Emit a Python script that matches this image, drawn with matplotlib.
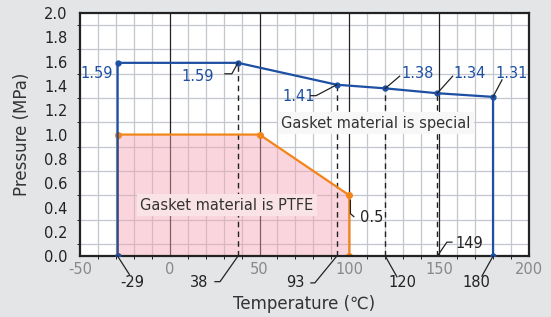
import numpy as np
import matplotlib.pyplot as plt

plt.rcParams['axes.unicode_minus'] = False

# pressure limit, special gasket material
special_t = [-29, -29, 38, 93, 120, 149, 180, 180]
special_p = [0, 1.59, 1.59, 1.41, 1.38, 1.34, 1.31, 0]

# pressure limit, PTFE gasket
ptfe_t = [-29, -29, 50, 100, 100]
ptfe_p = [0, 1.0, 1.0, 0.5, 0]

# temperatures with dashed guide lines
guide_t = [38, 93, 120, 149]
guide_p = [1.59, 1.41, 1.38, 1.34]

blue = '#1d4fa3'
orange = '#f28418'

fig = plt.figure(figsize=(5.51, 3.17), dpi=100, facecolor='#e4e5e7')
ax = fig.add_axes([0.145, 0.192, 0.815, 0.767])
ax.set_xlim(-50, 200)
ax.set_ylim(0, 2.0)

# grid
ax.set_xticks(np.arange(-50, 201, 10), minor=True)
ax.set_yticks(np.arange(0, 2.01, 0.1), minor=True)
ax.grid(which='minor', color='#c3c7cf', lw=0.9)
ax.set_axisbelow(True)
for t in [0, 50, 100, 150]:
    ax.axvline(t, color='#222222', lw=0.9, zorder=0.6)

ax.set_xticks([-50, 0, 50, 100, 150, 200])
ax.set_yticks(np.arange(0, 2.01, 0.2))
ax.set_yticklabels(['%.1f' % v for v in np.arange(0, 2.01, 0.2)])
ax.tick_params(length=0, labelsize=10.5)
ax.tick_params(axis='x', labelcolor='#888888', pad=4)
ax.tick_params(axis='y', labelcolor='#222222', pad=9)
for s in ax.spines.values():
    s.set_linewidth(1.6)
    s.set_color('#222222')

ax.fill(ptfe_t, ptfe_p, color='#f4a3b4', alpha=0.45, lw=0, zorder=1)

for t, p in zip(guide_t, guide_p):
    ax.plot([t, t], [0, p], color='#222222', lw=1, ls=(0, (4, 3)), zorder=1.5)

ax.plot(ptfe_t, ptfe_p, color=orange, lw=1.6, marker='o', ms=4, zorder=2.5)
ax.plot(special_t, special_p, color=blue, lw=1.6, marker='o', ms=3.5, zorder=2.6)

ax.text(114.8, 1.095, 'Gasket material is special', ha='center', va='center',
        fontsize=10.5, color='#333333', zorder=3,
        bbox=dict(boxstyle='square,pad=0.25', fc='#f7f7f7', ec='none'))
ax.text(31.8, 0.42, 'Gasket material is PTFE', ha='center', va='center',
        fontsize=10.5, color='#333333', zorder=3,
        bbox=dict(boxstyle='square,pad=0.25', fc='#fae3e6', ec='none'))

lk = dict(color='#222222', lw=0.9, clip_on=False, zorder=3)
nk = dict(ha='center', va='center', fontsize=10.5, clip_on=False)

# value labels on the blue line
ax.text(-40.5, 1.5, '1.59', color=blue, **nk)
ax.text(15.7, 1.48, '1.59', color=blue, **nk)
ax.plot([30.7, 34.6, 38], [1.50, 1.50, 1.59], **lk)
ax.text(71.9, 1.31, '1.41', color=blue, **nk)
ax.plot([78.5, 81.5, 93], [1.32, 1.32, 1.41], **lk)
ax.text(138.2, 1.5, '1.38', color=blue, **nk)
ax.plot([120, 128], [1.38, 1.48], **lk)
ax.text(167.2, 1.5, '1.34', color=blue, **nk)
ax.plot([149, 157.5], [1.34, 1.48], **lk)
ax.text(190.5, 1.5, '1.31', color=blue, **nk)
ax.plot([180, 185], [1.31, 1.45], **lk)

# orange corner label
ax.text(112.6, 0.32, '0.5', color='#222222', **nk)
ax.plot([100.6, 100.6, 102.5], [0.46, 0.35, 0.325], **lk)

# temperature labels
ax.text(166.6, 0.10, '149', color='#222222', **nk)
ax.plot([149, 154.3, 157.1], [0, 0.115, 0.115], **lk)
ax.text(-21, -0.22, '-29', color='#222222', **nk)
ax.plot([-29, -22.5], [0, -0.15], **lk)
ax.text(16.3, -0.22, '38', color='#222222', **nk)
ax.plot([38, 28, 25.2], [0, -0.21, -0.21], **lk)
ax.text(69.7, -0.22, '93', color='#222222', **nk)
ax.plot([93, 80.8, 78.6], [0, -0.22, -0.22], **lk)
ax.text(129.3, -0.22, '120', color='#222222', **nk)
ax.plot([120, 126.5], [0, -0.17], **lk)
ax.text(170.5, -0.22, '180', color='#222222', **nk)
ax.plot([180, 173.8], [0, -0.165], **lk)

ax.set_xlabel('Temperature (℃)', fontsize=12, color='#333333', labelpad=13)
ax.set_ylabel('Pressure (MPa)', fontsize=12, color='#333333', labelpad=9)

fig.savefig('out.png', dpi=100, facecolor=fig.get_facecolor())
